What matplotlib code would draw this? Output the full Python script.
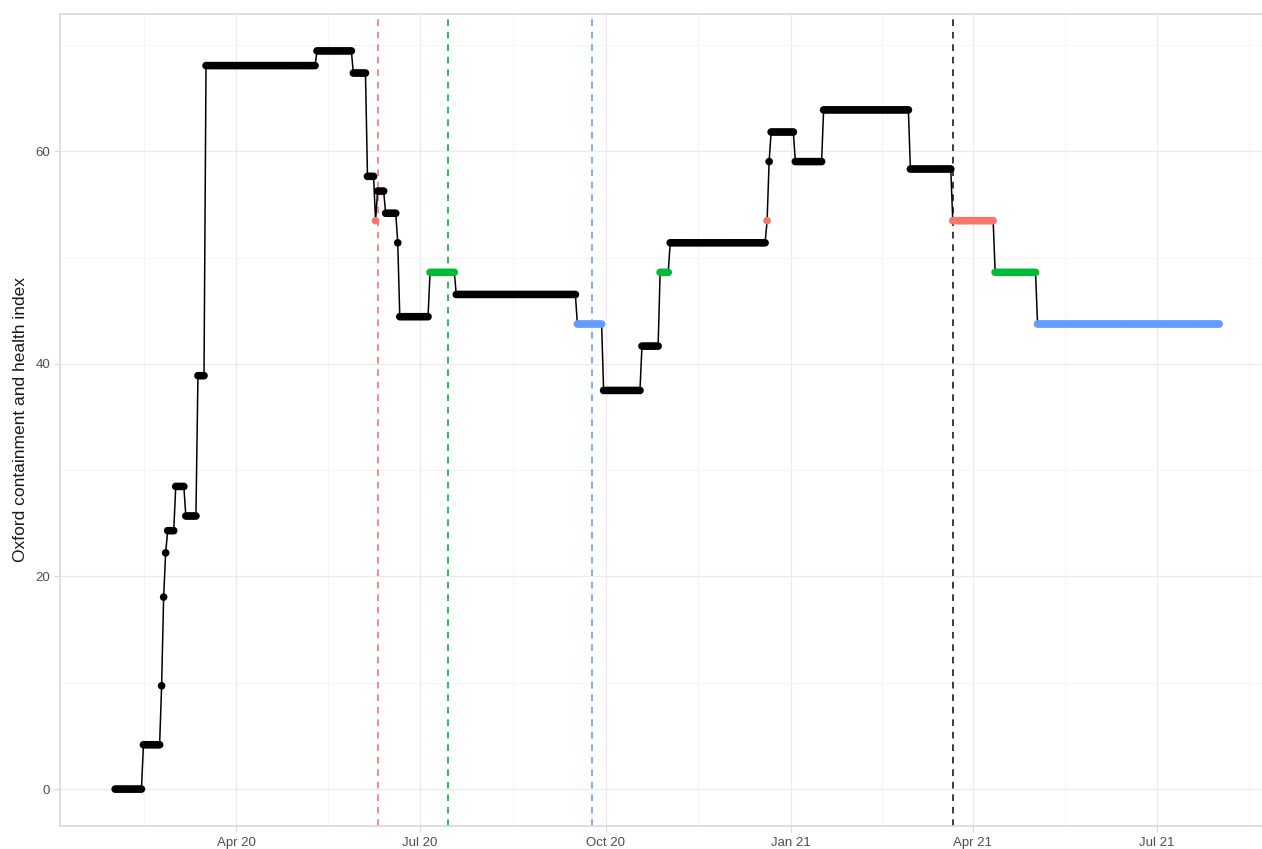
import numpy as np
import pandas as pd
import matplotlib
matplotlib.use('Agg')
import matplotlib.pyplot as plt
import matplotlib.dates as mdates
from matplotlib.ticker import FixedLocator

plt.rcParams['font.family'] = ['Liberation Sans', 'DejaVu Sans']

# ----- Data: the index changes in steps, one row per change -----
step_start = ['2020-02-01', '2020-02-15', '2020-02-24', '2020-02-25', '2020-02-26',
              '2020-02-27', '2020-03-02', '2020-03-07', '2020-03-13', '2020-03-17',
              '2020-05-11', '2020-05-29', '2020-06-05', '2020-06-09', '2020-06-10',
              '2020-06-14', '2020-06-20', '2020-06-21', '2020-07-06', '2020-07-19',
              '2020-09-17', '2020-09-30', '2020-10-19', '2020-10-28', '2020-11-02',
              '2020-12-20', '2020-12-21', '2020-12-22', '2021-01-03', '2021-01-17',
              '2021-03-01', '2021-03-22', '2021-04-12', '2021-05-03']
step_value = [0.00, 4.17, 9.72, 18.06, 22.22,
              24.31, 28.47, 25.69, 38.89, 68.06,
              69.44, 67.36, 57.64, 53.47, 56.25,
              54.17, 51.39, 44.44, 48.61, 46.53,
              43.75, 37.50, 41.67, 48.61, 51.39,
              53.47, 59.03, 61.81, 59.03, 63.89,
              58.33, 53.47, 48.61, 43.75]
step_group = ['none', 'none', 'none', 'none', 'none',
              'none', 'none', 'none', 'none', 'none',
              'none', 'none', 'none', 'red', 'none',
              'none', 'none', 'none', 'green', 'none',
              'blue', 'none', 'none', 'green', 'none',
              'red', 'none', 'none', 'none', 'none',
              'none', 'red', 'green', 'blue']
last_day = '2021-08-01'

# Dashed reference lines
event_dates = ['2020-06-10', '2020-07-15', '2020-09-24', '2021-03-22']
event_groups = ['red', 'green', 'blue', 'black']

group_colors = {'none': 'black', 'black': '#1a1a1a',
                'red': '#F8766D', 'green': '#00BA38', 'blue': '#619CFF'}

# Expand the steps to one point per day
days = pd.date_range(step_start[0], last_day, freq='D')
idx = pd.to_datetime(step_start)
values = pd.Series(step_value, index=idx).reindex(days).ffill()
groups = pd.Series(step_group, index=idx).reindex(days).ffill()
point_colors = [group_colors[g] for g in groups]

# ----- Figure -----
W, H = 1262, 849
fig = plt.figure(figsize=(W / 100, H / 100), dpi=100)
# panel runs past the right edge of the image, as in the original
ax = fig.add_axes([60 / W, 23 / H, 1214.4 / W, 812 / H])

for d, g in zip(event_dates, event_groups):
    ax.axvline(pd.Timestamp(d), color=group_colors[g], linestyle=(0, (4, 3.5)),
               linewidth=1.2, zorder=2)

ax.plot(days, values, color='black', linewidth=1.1, zorder=3)
ax.scatter(days, values, c=point_colors, s=30, linewidths=0, zorder=4)

# ggplot-like 5% expansion
pad_x = (days[-1] - days[0]) * 0.05
ax.set_xlim(days[0] - pad_x, days[-1] + pad_x)
ymax = max(step_value)
ax.set_ylim(-0.05 * ymax, ymax * 1.05)

quarters = pd.date_range('2020-01-01', '2021-10-01', freq='QS')
mids = [q1 + (q2 - q1) / 2 for q1, q2 in zip(quarters[:-1], quarters[1:])]
ax.xaxis.set_major_locator(mdates.MonthLocator(bymonth=[1, 4, 7, 10]))
ax.xaxis.set_major_formatter(mdates.DateFormatter('%b %y'))
ax.xaxis.set_minor_locator(FixedLocator(mdates.date2num(mids)))
ax.set_yticks([0, 20, 40, 60])
ax.set_yticks([10, 30, 50, 70], minor=True)

ax.grid(True, which='major', color='#ebebeb', linewidth=0.9, zorder=0)
ax.grid(True, which='minor', color='#f5f5f5', linewidth=0.7, zorder=0)
ax.set_axisbelow(True)

for sp in ax.spines.values():
    sp.set_color('#d9d9d9')
    sp.set_linewidth(1.2)

ax.tick_params(which='major', length=4, width=0.8, color='#d9d9d9',
               labelcolor='#4d4d4d', labelsize=9.5)
ax.tick_params(axis='y', which='major', pad=3)
ax.tick_params(axis='x', which='major', pad=4)
ax.tick_params(which='minor', length=0)

ax.set_ylabel('Oxford containment and health index', fontsize=12.5,
              color='#1a1a1a', labelpad=5.5)

plt.savefig('out.png', dpi=100)
plt.close()
